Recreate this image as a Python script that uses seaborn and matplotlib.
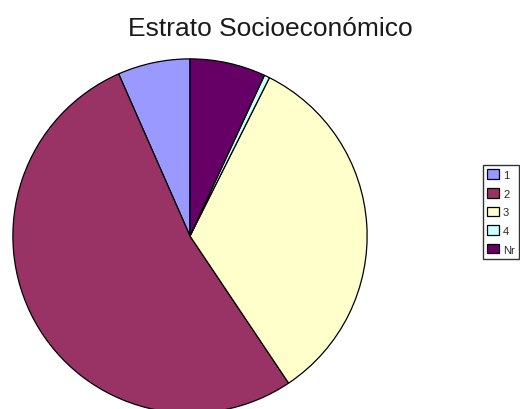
import matplotlib
matplotlib.use("Agg")
import matplotlib.pyplot as plt
import seaborn as sns

# Socio-economic stratum shares (percent)
estratos = ["1", "2", "3", "4", "Nr"]
porcentajes = [6.6, 52.8, 33.2, 0.5, 6.9]
colores = ["#9999FF", "#993366", "#FFFFCC", "#CCFFFF", "#660066"]

sns.set_theme(style="white")
plt.rcParams["font.family"] = ["Liberation Sans", "DejaVu Sans"]
palette = sns.color_palette(colores)

fig = plt.figure(figsize=(5.2, 4.1), dpi=100)
fig.patch.set_facecolor("white")

# pie area: 356 px square, left edge at 12 px, top at 59 px
ax = fig.add_axes([12 / 520, (410 - 415) / 410, 356 / 520, 356 / 410])
wedges, _ = ax.pie(
    porcentajes,
    colors=palette,
    startangle=90,
    counterclock=True,
    radius=1,
    wedgeprops=dict(edgecolor="black", linewidth=0.9),
)
ax.set_xlim(-1.005, 1.005)
ax.set_ylim(-1.005, 1.005)
ax.set_aspect("equal")
ax.axis("off")

fig.text(270 / 520, (410 - 36) / 410, "Estrato Socioeconómico",
         ha="center", va="baseline", fontsize=19, color="#1a1a1a")

leg = fig.legend(
    wedges, estratos,
    loc="upper left",
    bbox_to_anchor=(483 / 520, (410 - 166) / 410),
    bbox_transform=fig.transFigure,
    borderaxespad=0,
    fontsize=8,
    frameon=True,
    fancybox=False,
    borderpad=0.4,
    labelspacing=0.72,
    handlelength=1.05,
    handleheight=0.95,
    handletextpad=0.35,
)
leg.get_frame().set_edgecolor("black")
leg.get_frame().set_linewidth(1.0)

fig.savefig("out.png", dpi=100, facecolor="white")
